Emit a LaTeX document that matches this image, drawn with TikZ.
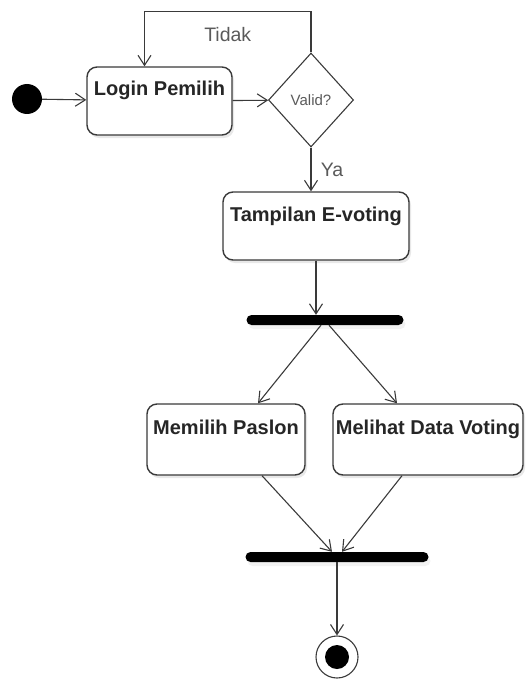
\documentclass[tikz,border=0pt]{standalone}
\usepackage{fontspec}
\setmainfont{Liberation Sans}
\usepackage{tikz}
\usepackage{xcolor}
\usetikzlibrary{arrows.meta}
\usetikzlibrary{shapes,shadows}

\definecolor{linegray}{HTML}{3A3A3A}
\definecolor{labelgray}{HTML}{5A5A5A}

\begin{document}
\begin{tikzpicture}[x=1pt,y=-1pt,>={Straight Barb[length=10pt,width=13pt]},
    flow/.style={->,draw=linegray,line width=1.1pt},
    act node/.style={rectangle,rounded corners=10pt,draw=linegray,line width=1.4pt,fill=white,
      drop shadow={fill=black!18,shadow xshift=2pt,shadow yshift=-3pt},
      text=black!85,font=\fontsize{20}{24}\selectfont\bfseries,
      text height=21pt,text depth=31pt,inner ysep=8pt,inner xsep=2pt},
    bar node/.style={rectangle,rounded corners=5pt,fill=black,inner sep=0pt,minimum height=10pt,
      drop shadow={fill=black!10,shadow xshift=2pt,shadow yshift=-4pt}},
    label text/.style={text=labelgray,font=\fontsize{19.5}{23}\selectfont}]

  \useasboundingbox (0,0) rectangle (525,682);

  \node[circle,fill=black,minimum size=30pt,inner sep=0pt] (0) at (27,99) {};
  \node[act node,minimum width=145pt] (1) at (159.5,101) {Login Pemilih};
  \node[diamond,draw=linegray,line width=1.1pt,minimum width=85pt,minimum height=94pt,inner sep=0pt,
        text=labelgray,font=\fontsize{15}{18}\selectfont] (2) at (311,100) {Valid?};
  \node[act node,minimum width=186pt] (3) at (316,226) {Tampilan E-voting};
  \node[bar node,minimum width=157pt] (4) at (325,320) {};
  \node[act node,minimum width=158pt,minimum height=71pt] (5) at (226,439.5) {Memilih Paslon};
  \node[act node,minimum width=190pt,minimum height=71pt] (6) at (428,439.5) {Melihat Data Voting};
  \node[bar node,minimum width=183pt] (7) at (337,557) {};
  \node[circle,draw=linegray,line width=1.1pt,minimum size=42pt,inner sep=0pt] (8) at (337,657) {};
  \node[circle,fill=black,minimum size=24pt,inner sep=0pt] (9) at (8) {};

  \path[every edge/.style={draw,flow}]
    (0) edge (1)
    (1) edge (2)
    (2.south) edge node[label text,right=6pt] {Ya} (2.south |- 3.north)
    (3) edge (3 |- 4.north)
    ([xshift=-4pt]4.south) edge ([xshift=32pt]5.north)
    ([xshift=4pt]4.south) edge ([xshift=-31pt]6.north)
    ([xshift=36pt]5.south) edge ([xshift=-5pt]7.north)
    ([xshift=-26pt]6.south) edge ([xshift=5pt]7.north)
    (7) edge (8)
    ;

  % loop back when not valid
  \draw[flow] (2.north) -- ++(0,-41) -| node[label text,pos=0.25,below=12pt] {Tidak} ([xshift=-15pt]1.north);
\end{tikzpicture}
\end{document}
